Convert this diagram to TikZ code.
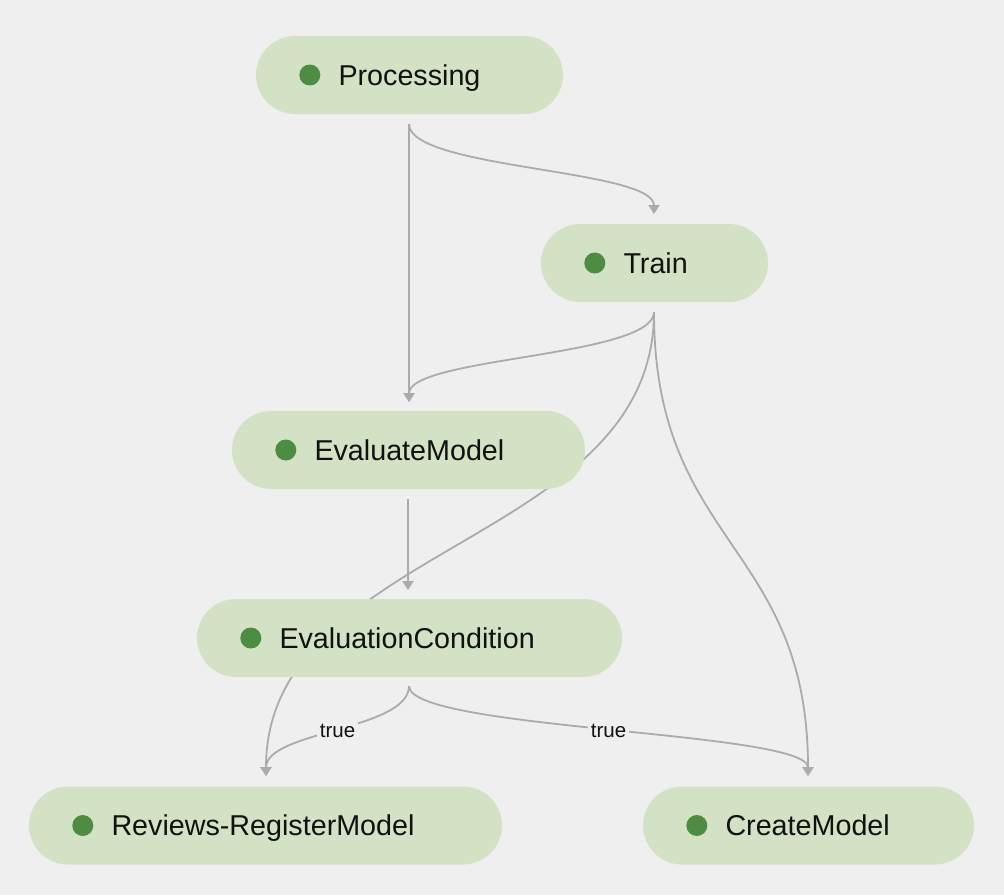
\documentclass[tikz,border=0pt]{standalone}
\usepackage{fontspec}
\setmainfont{Liberation Sans}
\usetikzlibrary{arrows.meta,calc}
\pgfdeclarelayer{background}
\pgfsetlayers{background,main}
\definecolor{bgc}{HTML}{EFEFEF}
\definecolor{pillc}{HTML}{D3E2C4}
\definecolor{dotc}{HTML}{4E8B43}
\definecolor{edgec}{HTML}{ABABAF}
\definecolor{txtc}{HTML}{111111}
\tikzset{
  pill/.style={fill=pillc, draw=none, rounded corners=39pt, minimum height=78pt, inner sep=0pt},
  lbl/.style={anchor=base west, inner sep=0pt, text=txtc, font=\fontsize{28.7}{30}\selectfont},
  dotmark/.style={fill=dotc},
  edge/.style={draw=edgec, line width=1.8pt, -{Triangle[width=11pt,length=9pt]}},
  elbl/.style={fill=bgc, inner sep=2.5pt, text=txtc, font=\fontsize{20.5}{22}\selectfont}
}
\begin{document}
\begin{tikzpicture}[x=1pt,y=-1pt]
\useasboundingbox (0,0) rectangle (1004,895);
% nodes
\node[pill, minimum width=307pt] (proc) at (409.5,75) {};
\node[pill, minimum width=227pt] (train) at (654.5,263) {};
\node[pill, minimum width=353pt] (evalm) at (408.5,450) {};
\node[pill, minimum width=425pt] (cond) at (409.5,638) {};
\node[pill, minimum width=473pt] (rev) at (265.5,825.5) {};
\node[pill, minimum width=331pt] (create) at (808.5,825.5) {};
% dots and labels
\foreach \n/\t in {proc/Processing, train/Train, evalm/EvaluateModel, cond/EvaluationCondition, rev/Reviews-RegisterModel, create/CreateModel}{
  \fill[dotmark] ($(\n.west)+(54,0)$) circle (10.5pt);
  \node[lbl] (\n-text) at ($(\n.west)+(82.5,10)$) {\t};
}
% connector end points
\coordinate (procout) at (409,124);
\coordinate (trainin) at (654,214);
\coordinate (trainout) at (654,312);
\coordinate (evalin) at (409,402);
\coordinate (evalout) at (408,499);
\coordinate (condin) at (408,590);
\coordinate (condout) at (409,686);
\coordinate (revin) at (266,776);
\coordinate (createin) at (808,776);
\begin{pgfonlayer}{background}
\fill[bgc] (0,0) rectangle (1004,895);
\draw[edge] (procout) .. controls +(0,45) and +(0,-45) .. (trainin);
\draw[edge] (procout) -- (evalin);
\draw[edge] (trainout) .. controls +(0,45) and +(0,-45) .. (evalin);
\draw[edge] (trainout) .. controls +(0,233) and +(0,-232) .. (revin);
\draw[edge] (trainout) .. controls +(0,233) and +(0,-232) .. (createin);
\draw[edge] (evalout) -- (condin);
\draw[edge] (condout) .. controls +(0,44) and +(0,-45) .. node[elbl] (t1) {true} (revin);
\draw[edge] (condout) .. controls +(0,44) and +(0,-45) .. node[elbl] (t2) {true} (createin);
\end{pgfonlayer}
\end{tikzpicture}
\end{document}
